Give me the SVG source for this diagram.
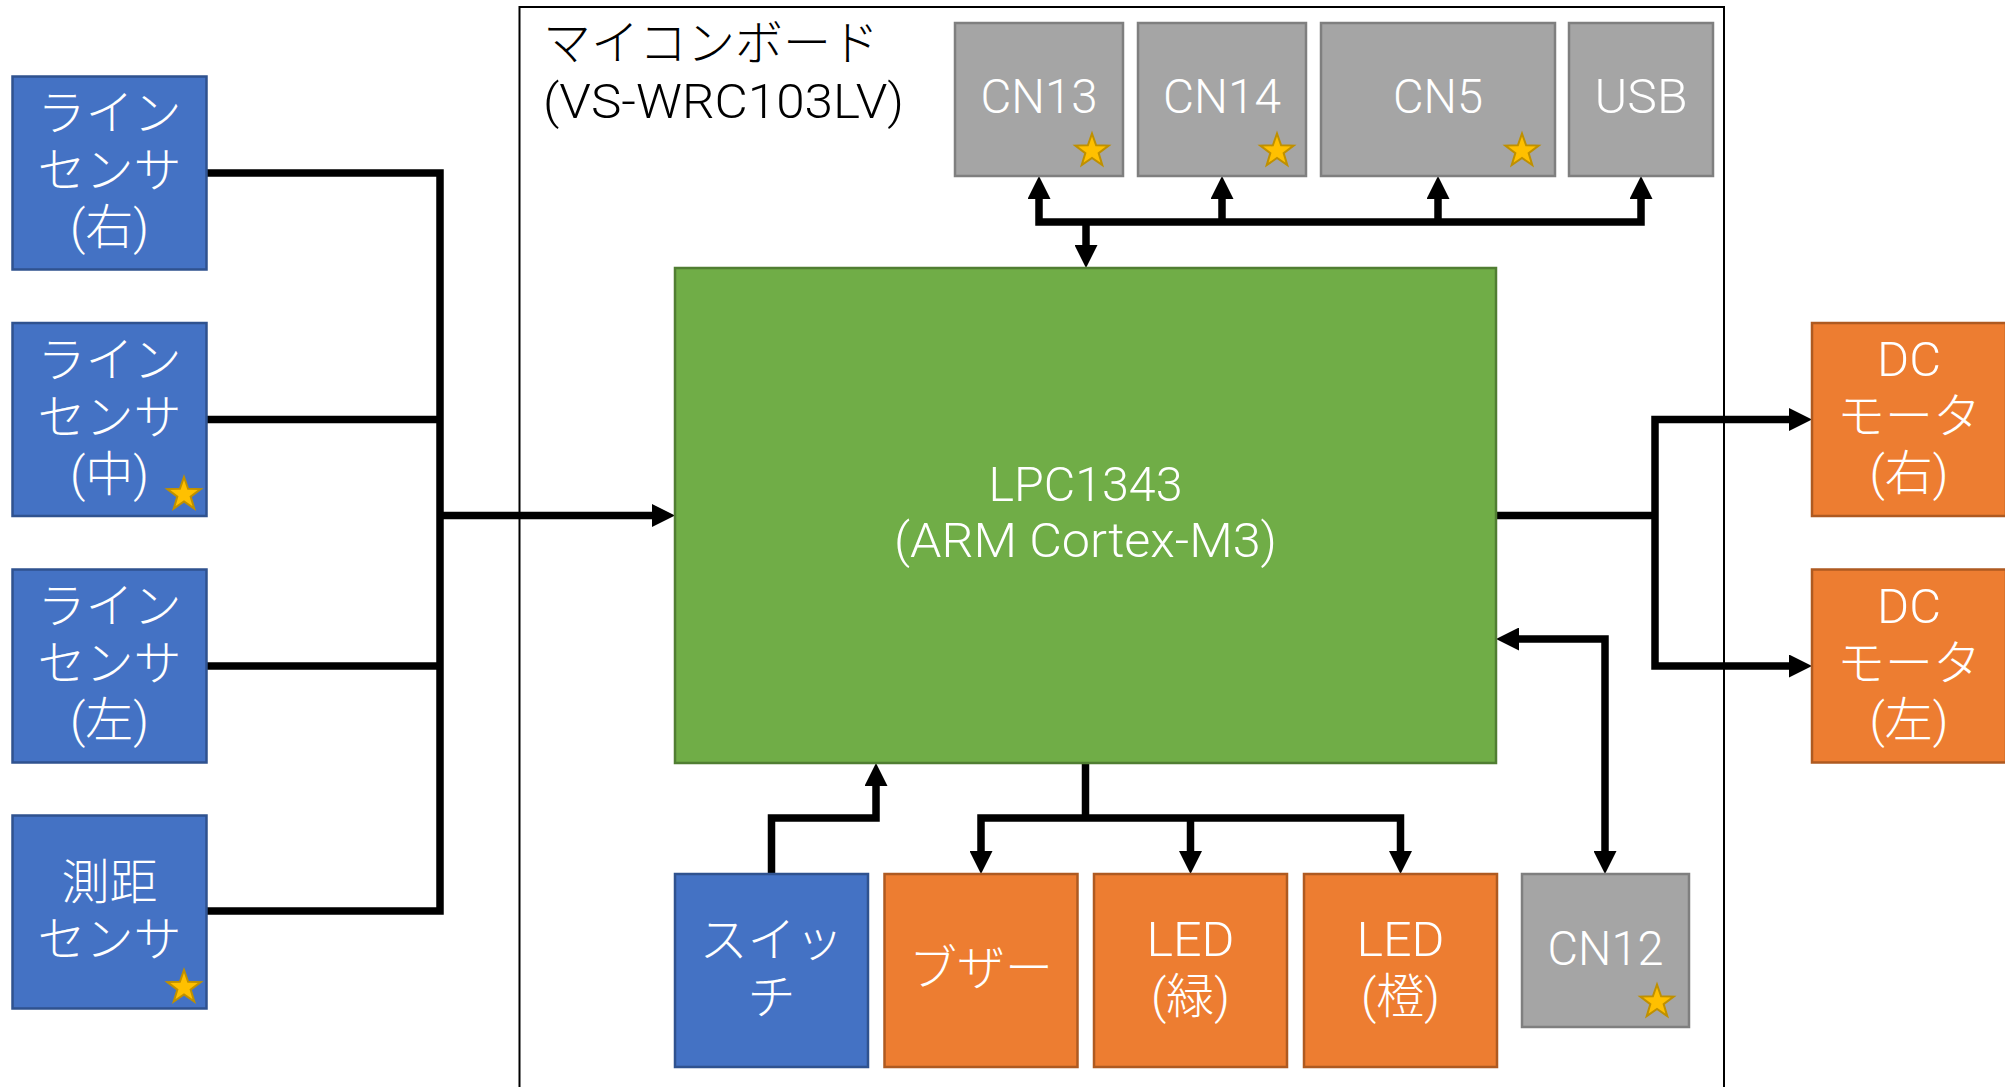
<svg xmlns="http://www.w3.org/2000/svg" width="2005" height="1087" viewBox="0 0 2005 1087">
<style>
  .blue { fill: #4472C4; stroke: #2F528F; stroke-width: 2.5; }
  .orange { fill: #ED7D31; stroke: #AE5A21; stroke-width: 2.5; }
  .gray { fill: #A5A5A5; stroke: #7F7F7F; stroke-width: 2.5; }
  .green { fill: #70AD47; stroke: #507E32; stroke-width: 2.5; }
  .lbl { font-family: Roboto, "Noto Sans CJK JP", sans-serif; font-weight: 300; font-size: 48px; fill: #FFFFFF; text-anchor: middle; }
  .title { font-family: Roboto, "Noto Sans CJK JP", sans-serif; font-weight: 300; font-size: 48px; fill: #000000; }
  .conn path { fill: none; stroke: #000000; stroke-width: 7.5; stroke-linejoin: miter; stroke-linecap: butt; }
  .star { fill: #FFC000; stroke: #BF9000; stroke-width: 2; }
</style>
<defs>
  <marker id="ah" viewBox="0 0 23 23" markerWidth="23" markerHeight="23" refX="0" refY="11.5" orient="auto-start-reverse" markerUnits="userSpaceOnUse">
    <path d="M0,0 L23,11.5 L0,23 Z" fill="#000000"/>
  </marker>
  <path id="star" class="star" d="M0,-17.5 L4.11,-5.66 L16.64,-5.41 L6.66,2.16 L10.29,14.16 L0,7 L-10.29,14.16 L-6.66,2.16 L-16.64,-5.41 L-4.11,-5.66 Z"/>
</defs>
<rect width="2005" height="1087" fill="#FFFFFF"/>

<g id="board">
  <rect x="519.5" y="7" width="1204.5" height="1100" fill="none" stroke="#000000" stroke-width="2"/>
  <text class="title"><tspan x="543" y="60">マイコンボード</tspan><tspan x="543" y="118" textLength="361" lengthAdjust="spacingAndGlyphs">(VS-WRC103LV)</tspan></text>
</g>

<g class="conn" id="connectors">
  <path d="M207,173 H440 V911 H207"/>
  <path d="M207,419.5 H440"/>
  <path d="M207,666 H440"/>
  <path d="M440,515.5 H652" marker-end="url(#ah)"/>
  <path d="M1039,199 V222 H1641 V199" marker-start="url(#ah)" marker-end="url(#ah)"/>
  <path d="M1222,222 V199" marker-end="url(#ah)"/>
  <path d="M1438,222 V199" marker-end="url(#ah)"/>
  <path d="M1086,222 V245" marker-end="url(#ah)"/>
  <path d="M1496,515.5 H1655"/>
  <path d="M1789,419.5 H1655 V666 H1789" marker-start="url(#ah)" marker-end="url(#ah)"/>
  <path d="M1605,851 V639 H1519" marker-start="url(#ah)" marker-end="url(#ah)"/>
  <path d="M771.5,874 V818 H876 V786" marker-end="url(#ah)"/>
  <path d="M1085.5,763 V821"/>
  <path d="M981,851 V818 H1400.5 V851" marker-start="url(#ah)" marker-end="url(#ah)"/>
  <path d="M1190.5,818 V851" marker-end="url(#ah)"/>
</g>

<g id="line-sensor-right">
  <rect class="blue" x="12.5" y="76.5" width="194" height="193"/>
  <text class="lbl"><tspan x="109.5" y="130">ライン</tspan><tspan x="109.5" y="187">センサ</tspan><tspan x="109.5" y="244">(右)</tspan></text>
</g>
<g id="line-sensor-center">
  <rect class="blue" x="12.5" y="323" width="194" height="193"/>
  <text class="lbl"><tspan x="109.5" y="376.5">ライン</tspan><tspan x="109.5" y="433.5">センサ</tspan><tspan x="109.5" y="490.5">(中)</tspan></text>
  <use href="#star" x="184" y="494.5"/>
</g>
<g id="line-sensor-left">
  <rect class="blue" x="12.5" y="569.5" width="194" height="193"/>
  <text class="lbl"><tspan x="109.5" y="623">ライン</tspan><tspan x="109.5" y="680">センサ</tspan><tspan x="109.5" y="737">(左)</tspan></text>
</g>
<g id="distance-sensor">
  <rect class="blue" x="12.5" y="815.5" width="194" height="193"/>
  <text class="lbl"><tspan x="109.5" y="899">測距</tspan><tspan x="109.5" y="956">センサ</tspan></text>
  <use href="#star" x="184" y="987.5"/>
</g>

<g id="lpc1343">
  <rect class="green" x="675" y="268" width="821" height="495"/>
  <text class="lbl"><tspan x="1085.5" y="500.5" textLength="194" lengthAdjust="spacingAndGlyphs">LPC1343</tspan><tspan x="1085.5" y="557" textLength="383" lengthAdjust="spacingAndGlyphs">(ARM Cortex-M3)</tspan></text>
</g>

<g id="cn13">
  <rect class="gray" x="955" y="23" width="168" height="153"/>
  <text class="lbl" x="1039" y="113" textLength="117" lengthAdjust="spacingAndGlyphs">CN13</text>
  <use href="#star" x="1092" y="151"/>
</g>
<g id="cn14">
  <rect class="gray" x="1138" y="23" width="168" height="153"/>
  <text class="lbl" x="1222" y="113" textLength="118" lengthAdjust="spacingAndGlyphs">CN14</text>
  <use href="#star" x="1277" y="151"/>
</g>
<g id="cn5">
  <rect class="gray" x="1321" y="23" width="234" height="153"/>
  <text class="lbl" x="1438" y="113" textLength="90" lengthAdjust="spacingAndGlyphs">CN5</text>
  <use href="#star" x="1522" y="151"/>
</g>
<g id="usb">
  <rect class="gray" x="1569" y="23" width="144" height="153"/>
  <text class="lbl" x="1641" y="113" textLength="93" lengthAdjust="spacingAndGlyphs">USB</text>
</g>

<g id="switch">
  <rect class="blue" x="675" y="874" width="193" height="193"/>
  <text class="lbl"><tspan x="771.5" y="957">スイッ</tspan><tspan x="771.5" y="1014">チ</tspan></text>
</g>
<g id="buzzer">
  <rect class="orange" x="884.5" y="874" width="193" height="193"/>
  <text class="lbl" x="981" y="985">ブザー</text>
</g>
<g id="led-green">
  <rect class="orange" x="1094" y="874" width="193" height="193"/>
  <text class="lbl"><tspan x="1190.5" y="956" textLength="88" lengthAdjust="spacingAndGlyphs">LED</tspan><tspan x="1190.5" y="1013">(緑)</tspan></text>
</g>
<g id="led-orange">
  <rect class="orange" x="1304" y="874" width="193" height="193"/>
  <text class="lbl"><tspan x="1400.5" y="956" textLength="88" lengthAdjust="spacingAndGlyphs">LED</tspan><tspan x="1400.5" y="1013">(橙)</tspan></text>
</g>
<g id="cn12">
  <rect class="gray" x="1522" y="874" width="167" height="153"/>
  <text class="lbl" x="1605.5" y="965" textLength="116" lengthAdjust="spacingAndGlyphs">CN12</text>
  <use href="#star" x="1657" y="1002"/>
</g>

<g id="dc-motor-right">
  <rect class="orange" x="1812" y="323" width="194" height="193"/>
  <text class="lbl"><tspan x="1909" y="376" textLength="64" lengthAdjust="spacingAndGlyphs">DC</tspan><tspan x="1909" y="433">モータ</tspan><tspan x="1909" y="490">(右)</tspan></text>
</g>
<g id="dc-motor-left">
  <rect class="orange" x="1812" y="569.5" width="194" height="193"/>
  <text class="lbl"><tspan x="1909" y="623" textLength="64" lengthAdjust="spacingAndGlyphs">DC</tspan><tspan x="1909" y="680">モータ</tspan><tspan x="1909" y="737">(左)</tspan></text>
</g>
</svg>
